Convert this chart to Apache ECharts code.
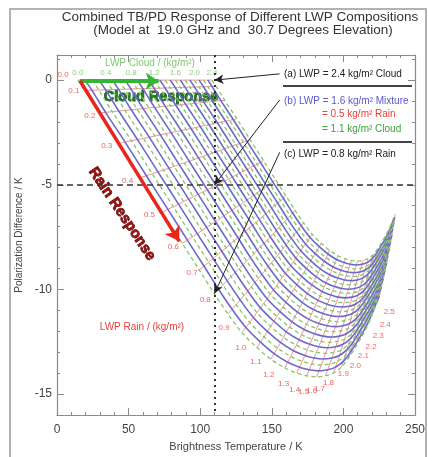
<!DOCTYPE html>
<html><head><meta charset="utf-8">
<script src="https://cdn.jsdelivr.net/npm/echarts/dist/echarts.min.js"></script>
<style>html,body{margin:0;padding:0;background:#fff;overflow:hidden}#c{width:428px;height:457px}</style>
</head><body><div id="c"></div>
<script>
// ---- data ----
const cloudLevels = [0.0,0.1,0.2,0.3,0.4,0.5,0.6,0.7,0.8,0.9,1.0,1.1,1.2,1.3,1.4,1.5,1.6,1.7,1.8,1.9,2.0,2.1,2.2,2.3,2.4];
// brightness temperature of pure-cloud points (top edge, PD = 0)
const cloudTopTB = [14.6,19.6,24.6,29.4,34.1,38.7,43.1,47.5,51.8,56.0,60.1,64.0,67.9,71.8,75.5,79.1,82.7,86.1,89.5,92.8,96.0,99.2,102.3,105.3,108.2];
// shrink of the rain response with cloud amount (read from the upper-right edge)
const cloudScale = [1.000,0.980,0.960,0.940,0.921,0.902,0.884,0.866,0.848,0.831,0.814,0.797,0.781,0.765,0.750,0.734,0.719,0.705,0.690,0.676,0.662,0.649,0.636,0.623,0.610];
const rainLevels = [0.0,0.1,0.2,0.3,0.4,0.5,0.6,0.7,0.8,0.9,1.0,1.1,1.2,1.3,1.4,1.5,1.6,1.7,1.8,1.9,2.0,2.1,2.2,2.3,2.4,2.5];
// pure-rain curve (cloud = 0)
const rainTB = [14.6,19.4,29.2,43.1,58.3,73.6,87.5,99.3,109.7,119.4,129.2,139.6,149.3,159.0,167.4,174.3,181.3,187.5,193.1,198.6,203.5,208.3,213.2,217.4,220.8,224.3];
const rainPD = [0,-0.49,-1.57,-3.02,-4.66,-6.30,-7.80,-9.06,-10.19,-11.17,-12.06,-12.77,-13.33,-13.75,-13.99,-14.12,-14.17,-14.12,-13.99,-13.71,-13.29,-12.77,-12.21,-11.65,-11.08,-10.52];
// rain label anchor positions
const rainLabelTB = [4.2,11.8,22.9,34.7,49.3,64.6,81.3,94.4,103.5,116.7,128.5,138.9,147.9,158.3,166.0,172.2,177.8,183.3,189.6,200.0,208.3,213.9,219.4,224.3,229.2,232.0];
const rainLabelPD = [0.26,-0.53,-1.71,-3.16,-4.80,-6.44,-7.94,-9.20,-10.47,-11.83,-12.77,-13.47,-14.08,-14.50,-14.78,-14.87,-14.83,-14.73,-14.45,-14.03,-13.66,-13.19,-12.72,-12.20,-11.69,-11.08];
const cloudLabelIdx = [0,4,8,12,16,20,24];
const yMajorTicks = [-15,-10,-5,0];
const yMinorTicks = [-16,-15,-14,-13,-12,-11,-10,-9,-8,-7,-6,-5,-4,-3,-2,-1,0,1];
// reference lines and pointed cases
const refTB = 110, refPD = -5;
const caseA = [110, 0], caseB = [110, -5], caseC = [110, -10.19];

const FONT = '"Liberation Sans", Arial, Helvetica, sans-serif';
const chart = echarts.init(document.getElementById('c'));

function node(ci, ri) {
  return [cloudTopTB[ci] + cloudScale[ci] * (rainTB[ri] - rainTB[0]), cloudScale[ci] * rainPD[ri]];
}

const series = [];
rainLevels.forEach((r, ri) => {
  series.push({type:'line', silent:true, symbol:'none', smooth:0.2, z:1,
    data: cloudLevels.map((c, ci) => node(ci, ri)),
    lineStyle:{color:'#ee8a8a', width:1}});
});
cloudLevels.forEach((c, ci) => {
  const even = ci % 2 === 0;
  series.push({type:'line', silent:true, symbol:'none', smooth:0.3, z: even ? 3 : 2,
    data: rainLevels.map((r, ri) => node(ci, ri)),
    lineStyle: even ? {color:'#84c76a', width:1.3, type:[4,3]} : {color:'#6c68cc', width:1.6}});
});
series.push({type:'scatter', silent:true, symbolSize:0, z:5,
  data: rainLevels.map((r, i) => [rainLabelTB[i], rainLabelPD[i]]),
  label:{show:true, position:'inside', color:'#e8403a', fontSize:8, fontFamily:FONT,
    formatter: p => rainLevels[p.dataIndex].toFixed(1)}});
series.push({type:'scatter', silent:true, symbolSize:0, z:5,
  data: cloudLabelIdx.map(i => [cloudTopTB[i], 0]),
  label:{show:true, position:'top', distance:3, color:'#6cbf5a', fontSize:8, fontFamily:FONT,
    formatter: p => cloudLevels[cloudLabelIdx[p.dataIndex]].toFixed(1)},
  markLine:{silent:true, animation:false, label:{show:false}, symbol:['none','none'], z:6,
    data:[
      [{coord:[refTB, 1.2], lineStyle:{color:'#333', width:2, type:[2,4]}}, {coord:[refTB, -16]}],
      [{coord:[0, refPD], lineStyle:{color:'#333', width:1.5, type:[6,4]}}, {coord:[250, refPD]}],
      [{coord:[16, -0.05], symbol:'none'}, {coord:[71, -0.05], symbol:'arrow', symbolSize:[13,13],
        lineStyle:{color:'#35b535', width:4, type:'solid'}}],
      [{coord:[16, -0.03], symbol:'none'}, {coord:[85.4, -7.7], symbol:'arrow', symbolSize:[13,14],
        lineStyle:{color:'#e8261c', width:3.5, type:'solid'}}],
      [{coord:[155.5, 0.3], symbol:'none'}, {coord:caseA, symbol:'arrow', symbolSize:[7,9],
        lineStyle:{color:'#222', width:1, type:'solid'}}],
      [{coord:[155.5, -0.95], symbol:'none'}, {coord:caseB, symbol:'arrow', symbolSize:[7,9],
        lineStyle:{color:'#222', width:1, type:'solid'}}],
      [{coord:[155.5, -3.45], symbol:'none'}, {coord:caseC, symbol:'arrow', symbolSize:[7,9],
        lineStyle:{color:'#222', width:1, type:'solid'}}]
    ]
  }});

const axisCol = '#8a8a8a';
const option = {
  animation:false,
  grid:{left:57, right:11, top:55, bottom:35},
  xAxis:[
    {type:'value', min:0, max:250, interval:50, position:'bottom',
     axisLine:{show:true, onZero:false, lineStyle:{color:axisCol, width:1.2}},
     axisTick:{show:true, inside:true, length:7, lineStyle:{color:axisCol}},
     minorTick:{show:true, splitNumber:5, length:3, lineStyle:{color:axisCol}},
     splitLine:{show:false},
     axisLabel:{color:'#444', fontSize:12, margin:9, fontFamily:FONT},
     name:'Brightness Temperature / K', nameLocation:'middle', nameGap:24,
     nameTextStyle:{color:'#444', fontSize:11, fontFamily:FONT}},
    {type:'value', min:0, max:250, interval:50, position:'top',
     axisLine:{show:true, onZero:false, lineStyle:{color:axisCol, width:1.2}},
     axisTick:{show:true, inside:true, length:7, lineStyle:{color:axisCol}},
     minorTick:{show:true, splitNumber:5, length:3, lineStyle:{color:axisCol}},
     splitLine:{show:false}, axisLabel:{show:false}}
  ],
  yAxis:[
    {type:'value', min:-16, max:1.2, position:'left',
     axisLine:{show:true, onZero:false, lineStyle:{color:axisCol, width:1.2}},
     axisTick:{show:true, inside:true, length:7, customValues:yMajorTicks, lineStyle:{color:axisCol}},
     splitLine:{show:false},
     axisLabel:{color:'#444', fontSize:12, margin:5, fontFamily:FONT, customValues:yMajorTicks},
     name:'Polarization Difference / K', nameLocation:'middle', nameGap:24,
     nameTextStyle:{color:'#444', fontSize:10, fontFamily:FONT}},
    {type:'value', min:-16, max:1.2, position:'left',
     axisLine:{show:false, onZero:false},
     axisTick:{show:true, inside:true, length:3, customValues:yMinorTicks, lineStyle:{color:axisCol}},
     splitLine:{show:false}, axisLabel:{show:false}},
    {type:'value', min:-16, max:1.2, position:'right',
     axisLine:{show:true, onZero:false, lineStyle:{color:axisCol, width:1.2}},
     axisTick:{show:true, inside:true, length:7, customValues:yMajorTicks, lineStyle:{color:axisCol}},
     splitLine:{show:false}, axisLabel:{show:false}},
    {type:'value', min:-16, max:1.2, position:'right',
     axisLine:{show:false, onZero:false},
     axisTick:{show:true, inside:true, length:3, customValues:yMinorTicks, lineStyle:{color:axisCol}},
     splitLine:{show:false}, axisLabel:{show:false}}
  ],
  series: series
};
chart.setOption(option);

const T = (x, y, text, o) => ({type:'text', x:x, y:y, silent:true,
  style:Object.assign({text:text, fontFamily:FONT, fontSize:10, fill:'#222', textVerticalAlign:'middle'}, o || {})});
chart.setOption({graphic:[
  {type:'rect', silent:true, shape:{x:10, y:9, width:416, height:460}, style:{fill:'none', stroke:'#9a9a9a', lineWidth:1.5}},
  T(240, 17, 'Combined TB/PD Response of Different LWP Compositions', {fontSize:13.5, fill:'#333', textAlign:'center'}),
  T(243, 30, '(Model at  19.0 GHz and  30.7 Degrees Elevation)', {fontSize:13.5, fill:'#333', textAlign:'center'}),
  T(150, 63, 'LWP Cloud / (kg/m²)', {fontSize:10, fill:'#7ccb6a', textAlign:'center'}),
  T(142, 327, 'LWP Rain / (kg/m²)', {fontSize:10, fill:'#e8403a', textAlign:'center'}),
  T(284, 74, '(a) LWP = 2.4 kg/m² Cloud', {}),
  {type:'line', silent:true, shape:{x1:283, y1:86, x2:412, y2:86}, style:{stroke:'#444', lineWidth:2}},
  T(284, 101, '(b) LWP = 1.6 kg/m² Mixture', {fill:'#5a56cc'}),
  T(322, 114, '= 0.5 kg/m² Rain', {fill:'#e8403a'}),
  T(322, 129, '= 1.1 kg/m² Cloud', {fill:'#3aa03a'}),
  {type:'line', silent:true, shape:{x1:283, y1:142, x2:412, y2:142}, style:{stroke:'#444', lineWidth:2}},
  T(284, 154, '(c) LWP = 0.8 kg/m² Rain', {}),
  T(161, 97, 'Cloud Response', {fontSize:14.5, fontWeight:'bold', fill:'#237a23', stroke:'#0b3a0b', lineWidth:0.8, textAlign:'center'}),
  {type:'text', silent:true, x:122, y:214, rotation:-0.98,
   style:{text:'Rain Response', fontFamily:FONT, fontSize:15, fontWeight:'bold', fill:'#a01010', stroke:'#400000', lineWidth:0.8, textAlign:'center', textVerticalAlign:'middle'}}
]});
</script></body></html>
